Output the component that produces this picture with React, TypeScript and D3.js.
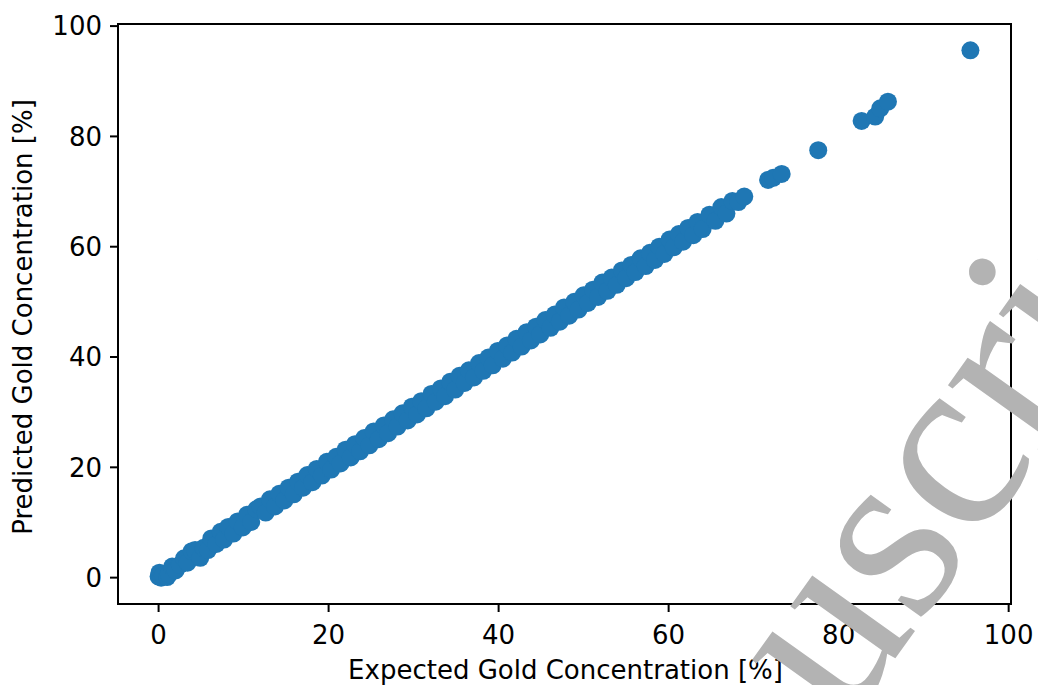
import React from "react";
import * as d3 from "d3";

const expected: number[] = [
  0, 0.1, 0.3, 0.5, 1, 1.2, 1.6, 2, 2.5, 3, 3.4, 3.9, 4.3, 4.9, 5.3, 5.8, 6.2, 6.8, 7.3, 7.7,
  8.2, 8.8, 9.3, 9.9, 10.4, 10.9, 11.5, 12, 12.6, 13.1, 13.7, 14.2, 14.8, 15.3, 15.9, 16.4, 17,
  17.5, 18.1, 18.6, 19.2, 19.8, 20.3, 20.9, 21.4, 22, 22.6, 23.1, 23.7, 24.2, 24.8, 25.3, 25.9,
  26.5, 27, 27.6, 28.1, 28.7, 29.3, 29.8, 30.4, 30.9, 31.5, 32.1, 32.6, 33.2, 33.7, 34.3, 34.9,
  35.4, 36, 36.5, 37.1, 37.7, 38.2, 38.8, 39.3, 39.9, 40.5, 41, 41.6, 42.1, 42.7, 43.3, 43.8,
  44.4, 44.9, 45.5, 46.1, 46.6, 47.2, 47.7, 48.3, 48.9, 49.4, 50, 50.5, 51.1, 51.7, 52.2, 52.8,
  53.3, 53.9, 54.5, 55, 55.6, 56.1, 56.7, 57.3, 57.8, 58.4, 58.9, 59.5, 60.1, 60.6, 61.2, 61.7,
  62.3, 62.9, 63.4, 64, 64.8, 65.5, 66.2, 66.8, 67.5, 68.2, 68.9,
  71.7, 72.3, 73.3, 77.6, 82.7, 84.3, 84.9, 85.8, 95.5,
];

const predicted: number[] = [
  0.2, 0.9, 0, 0.4, 0.1, 0.6, 2.0, 1.3, 2.3, 3.5, 2.7, 4.8, 5.0, 3.6, 5.4, 5.0, 7.1, 6.1, 8.3, 6.9,
  9.2, 8.0, 10.2, 9.1, 11.4, 10.1, 12.4, 12.9, 11.8, 14.2, 12.9, 15.2, 14.0, 16.3, 15.1, 17.4, 16.3,
  18.6, 17.3, 19.7, 18.5, 21.0, 19.6, 21.9, 20.7, 23.2, 21.8, 24.2, 22.9, 25.3, 24.0, 26.5, 25.1,
  27.6, 26.2, 28.7, 27.4, 29.8, 28.5, 31.0, 29.6, 32.0, 30.7, 33.3, 31.9, 34.3, 32.9, 35.5, 34.1,
  36.6, 35.3, 37.6, 36.3, 38.9, 37.5, 39.9, 38.5, 41.1, 39.7, 42.1, 40.8, 43.3, 41.9, 44.5, 43.0,
  45.5, 44.1, 46.7, 45.3, 47.7, 46.4, 49.0, 47.5, 50.0, 48.6, 51.2, 49.8, 52.2, 50.9, 53.5, 52.0,
  54.4, 53.1, 55.7, 54.3, 56.7, 55.4, 57.9, 56.5, 58.9, 57.6, 60.0, 58.7, 61.3, 59.9, 62.3, 60.9,
  63.4, 62.1, 64.5, 63.2, 65.8, 64.7, 67.2, 66.0, 68.3, 68.1, 69.1,
  72.1, 72.5, 73.2, 77.5, 82.8, 83.6, 85.1, 86.3, 95.6,
];

const xTicks: number[] = [0, 20, 40, 60, 80, 100];
const yTicks: number[] = [0, 20, 40, 60, 80, 100];
const xLabel = "Expected Gold Concentration [%]";
const yLabel = "Predicted Gold Concentration [%]";
const watermark = "Manuscript";

const W = 1038;
const H = 685;
const L = 118, R = 1011, T = 24, B = 604;
const FONT = "DejaVu Sans, sans-serif";
const FS = 26;

export default function App() {
  const x = d3.scaleLinear().domain([-4.775, 100.275]).range([L, R]);
  const y = d3.scaleLinear().domain([-4.78, 100.38]).range([B, T]);
  const pts = expected.map((e, i) => [e, predicted[i]] as [number, number]);

  return (
    <svg width={W} height={H} style={{ position: "absolute", left: 0, top: 0, background: "#fff" }}>
      <rect x={0} y={0} width={W} height={H} fill="#fff" />
      <g>
        {pts.map((p, i) => (
          <circle key={i} cx={x(p[0])} cy={y(p[1])} r={9} fill="#1f77b4" />
        ))}
      </g>
      <rect x={L} y={T} width={R - L} height={B - T} fill="none" stroke="#000" strokeWidth={2} />
      {xTicks.map((t) => (
        <g key={"x" + t}>
          <line x1={x(t)} x2={x(t)} y1={B} y2={B + 8} stroke="#000" strokeWidth={2} />
          <text x={x(t)} y={B + 40} textAnchor="middle" fontFamily={FONT} fontSize={FS} fill="#000">
            {t}
          </text>
        </g>
      ))}
      {yTicks.map((t) => (
        <g key={"y" + t}>
          <line x1={L - 8} x2={L} y1={y(t)} y2={y(t)} stroke="#000" strokeWidth={2} />
          <text x={L - 16} y={y(t)} dy="0.36em" textAnchor="end" fontFamily={FONT} fontSize={FS} fill="#000">
            {t}
          </text>
        </g>
      ))}
      <text x={(L + R) / 2 + 1} y={679} textAnchor="middle" fontFamily={FONT} fontSize={FS} fill="#000">
        {xLabel}
      </text>
      <text
        transform={`translate(32, ${(T + B) / 2 + 3}) rotate(-90)`}
        textAnchor="middle"
        fontFamily={FONT}
        fontSize={FS}
        fill="#000"
      >
        {yLabel}
      </text>
      <text
        transform="translate(576, 1106) rotate(-54.5)"
        fontFamily="Liberation Serif, Times New Roman, serif"
        fontSize={252}
        fill="#b3b3b3"
      >
        {watermark}
      </text>
    </svg>
  );
}
